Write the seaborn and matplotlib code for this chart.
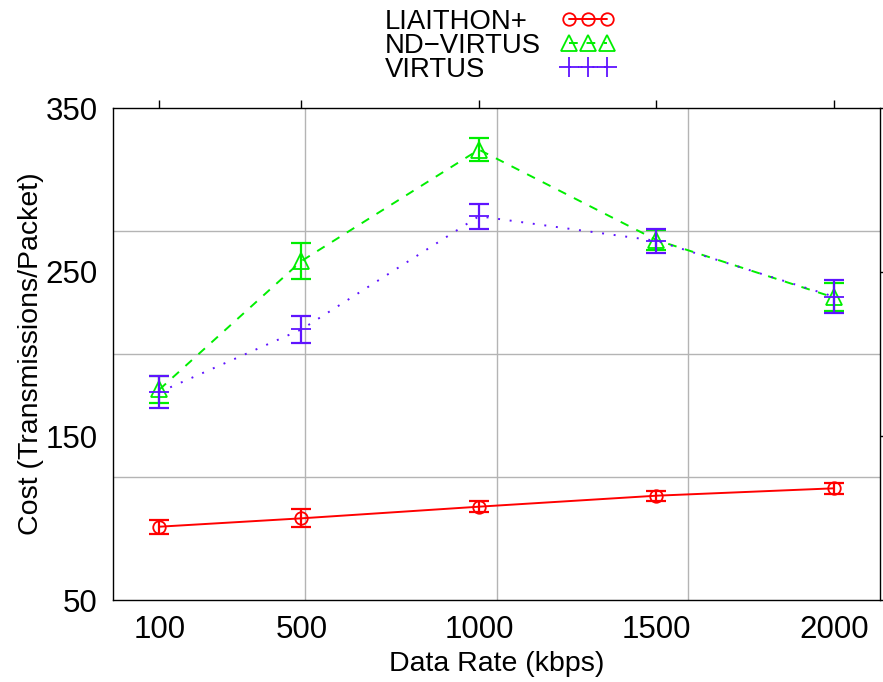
import matplotlib
matplotlib.use("Agg")
import matplotlib.pyplot as plt
import seaborn as sns

# ---- data ----
rates = [100, 500, 1000, 1500, 2000]
liaithon = [94.7, 99.8, 106.9, 113.6, 118.1]
liaithon_err = [4.3, 5.5, 3.3, 3.0, 3.5]
nd_virtus = [178.4, 256.7, 324.6, 269.5, 234.5]
nd_virtus_err = [8.2, 10.9, 6.9, 6.0, 8.5]
virtus = [176.8, 215.0, 284.0, 269.0, 235.0]
virtus_err = [9.8, 8.2, 7.7, 7.5, 10.0]
series_names = ["LIAITHON+", "ND\u2212VIRTUS", "VIRTUS"]
x_ticks = [100, 500, 1000, 1500, 2000]
y_ticks = [50, 150, 250, 350]

sns.set_theme(style="white")
plt.rcParams["font.family"] = ["Liberation Sans", "DejaVu Sans"]
plt.rcParams["text.color"] = "black"
plt.rcParams["axes.labelcolor"] = "black"

W, H = 883, 682
fig = plt.figure(figsize=(W / 100, H / 100), dpi=100)
ax = fig.add_axes([113 / W, 1 - 600 / H, (880 - 113) / W, (600 - 108) / H])

styles = [
    dict(color="#ff0000", marker="o", ls="-", ms=9),
    dict(color="#00ee00", marker="^", ls=(0, (4.5, 4.5)), ms=12),
    dict(color="#5f14ff", marker="+", ls=(0, (1, 5)), ms=14),
]
values = [liaithon, nd_virtus, virtus]
errors = [liaithon_err, nd_virtus_err, virtus_err]

for name, vals, errs, st in zip(series_names, values, errors, styles):
    sns.lineplot(x=rates, y=vals, ax=ax, color=st["color"], marker=st["marker"],
                 linestyle=st["ls"], markersize=st["ms"], markerfacecolor="none",
                 markeredgecolor=st["color"], markeredgewidth=1.3, linewidth=1.4,
                 label=name)
    ax.errorbar(rates, vals, yerr=errs, fmt="none", ecolor=st["color"],
                elinewidth=1.6, capsize=7, capthick=1.6)

xlim = (-31, 2130)
ylim = (50, 350)
ax.set_xlim(*xlim)
ax.set_ylim(*ylim)
ax.set_xticks(x_ticks)
ax.set_xticklabels([str(v) for v in x_ticks])
ax.set_yticks(y_ticks)
ax.set_yticklabels([str(v) for v in y_ticks])

# gnuplot-like grid at quarter divisions of the plot area
ax.set_xticks([xlim[0] + (xlim[1] - xlim[0]) * k / 4 for k in (1, 2, 3)], minor=True)
ax.set_yticks([ylim[0] + (ylim[1] - ylim[0]) * k / 4 for k in (1, 2, 3)], minor=True)
ax.grid(which="major", visible=False)
ax.grid(which="minor", color="#b4b4b4", linewidth=1.0)
ax.tick_params(which="minor", length=0)
ax.tick_params(which="major", direction="out", length=6, width=1, top=True,
               right=True, labelsize=22.5, pad=5, colors="black")
for sp in ax.spines.values():
    sp.set_color("black")
    sp.set_linewidth(1.0)

ax.set_xlabel("Data Rate (kbps)", fontsize=20.5, labelpad=4, color="black")
ax.set_ylabel("Cost (Transmissions/Packet)", fontsize=20.5, color="black")
ax.yaxis.set_label_coords((44 - 113) / (880 - 113), 0.5)

handles, labels = ax.get_legend_handles_labels()
leg = ax.legend(handles, labels, loc="upper left",
                bbox_to_anchor=(385 / W, 1 - 9 / H), bbox_transform=fig.transFigure,
                frameon=False, markerfirst=False, numpoints=3, handlelength=2.0,
                handletextpad=0.7, labelspacing=-0.08, fontsize=19.8,
                borderpad=0, borderaxespad=0, labelcolor="black")

# left-align the legend texts (gnuplot style) while keeping samples aligned
fig.canvas.draw()
renderer = fig.canvas.get_renderer()
texts = leg.get_texts()
widths = [t.get_window_extent(renderer).width for t in texts]
maxw = max(widths)
rows = leg._legend_handle_box.get_children()[0].get_children()
for row, w in zip(rows, widths):
    row.sep += (maxw - w) * 72 / fig.dpi

fig.savefig("out.png", dpi=100)
